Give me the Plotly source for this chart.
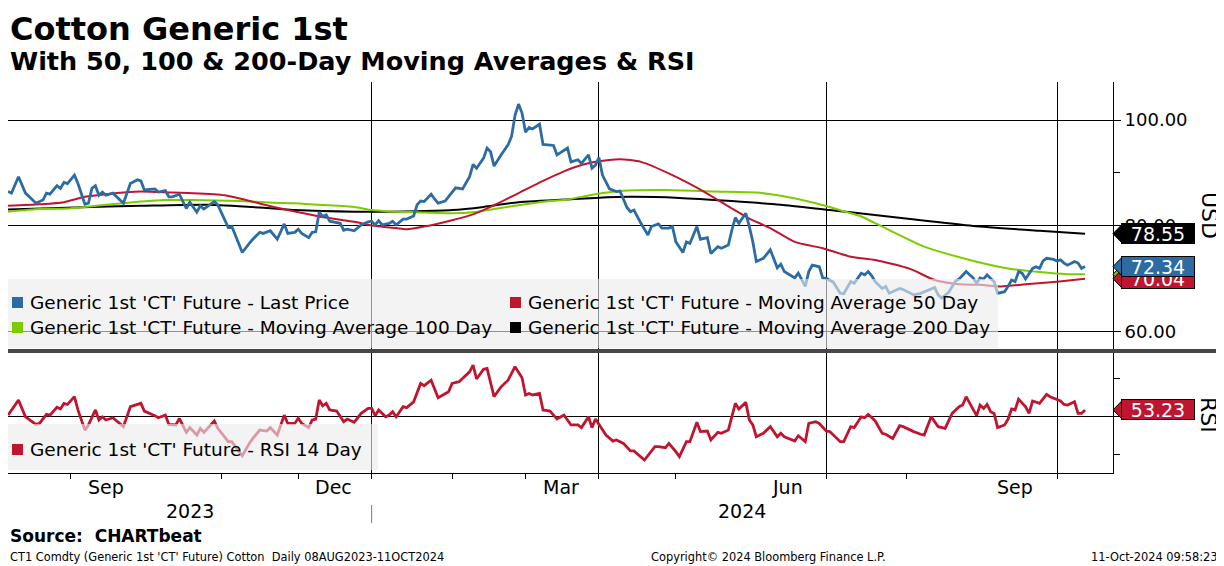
import pandas as pd
import plotly.graph_objects as go

# === DATA ===
# x values are trading-day numbers counted from 08 Aug 2023 (0) to 11 Oct 2024 (308)
trading_days = pd.bdate_range("2023-08-08", "2024-10-11")

price_idx = [0, 1, 3, 5, 8, 10, 11, 12, 14, 15,
             16, 17, 19, 20, 22, 23, 24, 25, 26, 27,
             28, 30, 33, 35, 37, 38, 39, 42, 43, 45,
             46, 47, 49, 51, 52, 54, 55, 56, 59, 60,
             63, 64, 65, 67, 69, 70, 72, 73, 75, 77,
             79, 80, 82, 83, 84, 86, 87, 88, 89, 90,
             91, 92, 95, 96, 97, 99, 101, 103, 104, 105,
             106, 107, 109, 110, 111, 113, 114, 116, 117, 118,
             119, 121, 122, 123, 125, 126, 128, 130, 131, 132,
             133, 134, 136, 137, 138, 139, 141, 143, 144, 145,
             146, 147, 148, 149, 150, 152, 153, 155, 156, 157,
             160, 161, 163, 164, 166, 167, 168, 169, 170, 172,
             174, 175, 177, 178, 179, 181, 183, 184, 186, 187,
             189, 190, 191, 193, 194, 195, 197, 198, 200, 201,
             203, 204, 206, 207, 208, 209, 211, 212, 213, 214,
             216, 218, 220, 221, 222, 225, 226, 228, 229, 230,
             232, 233, 234, 236, 238, 239, 241, 242, 244, 245,
             246, 247, 248, 250, 251, 252, 253, 255, 256, 258,
             259, 261, 262, 263, 265, 266, 267, 269, 270, 271,
             272, 274, 275, 276, 277, 278, 279, 280, 281, 282,
             283, 285, 286, 287, 288, 289, 290, 291, 293, 294,
             295, 296, 297, 299, 300, 301, 302, 303, 305, 306,
             307, 308]
last_price = [86.5, 86.2, 89.3, 86.2, 84.3, 84.9, 86.2, 86.0, 87.6, 87.1,
              88.2, 88.0, 89.6, 88.0, 84.1, 84.3, 87.1, 87.6, 85.8, 86.4,
              85.8, 86.2, 84.3, 88.0, 88.7, 88.5, 86.8, 87.0, 86.4, 86.7,
              85.5, 85.5, 86.0, 83.3, 84.5, 82.6, 83.8, 83.2, 84.6, 84.0,
              79.7, 79.9, 78.3, 75.0, 76.7, 77.5, 78.8, 78.6, 79.1, 77.5,
              80.4, 78.6, 78.8, 79.4, 78.6, 77.8, 78.8, 78.9, 82.6, 81.8,
              82.1, 80.9, 80.5, 79.2, 79.4, 79.1, 80.2, 80.8, 80.9, 80.2,
              81.0, 80.2, 80.5, 80.9, 80.2, 81.3, 81.3, 81.9, 84.0, 84.7,
              84.6, 86.0, 85.1, 84.3, 84.7, 85.5, 87.2, 87.0, 88.2, 89.3,
              91.6, 90.9, 92.8, 94.7, 94.0, 91.3, 93.4, 95.3, 96.9, 100.9,
              103.0, 101.3, 97.7, 98.6, 98.3, 99.2, 95.4, 95.3, 95.2, 93.4,
              94.7, 92.1, 92.5, 91.8, 93.4, 90.9, 91.5, 92.9, 89.6, 87.0,
              86.5, 86.6, 83.5, 82.7, 83.0, 80.5, 78.3, 79.9, 80.4, 79.6,
              79.6, 79.9, 77.0, 75.0, 77.0, 76.7, 79.9, 77.5, 77.8, 74.8,
              76.1, 75.8, 76.4, 79.2, 81.6, 80.5, 82.4, 79.9, 77.0, 73.3,
              73.9, 75.5, 72.1, 72.8, 71.4, 70.2, 71.1, 68.6, 71.4, 72.6,
              72.3, 70.2, 70.1, 69.4, 67.3, 67.2, 69.5, 69.2, 71.1, 70.8,
              71.4, 70.6, 69.5, 68.2, 68.6, 67.3, 67.6, 68.2, 68.0, 67.3,
              67.0, 67.3, 67.6, 67.9, 68.4, 67.0, 66.4, 67.5, 68.6, 69.6,
              70.0, 71.4, 70.8, 70.2, 69.2, 70.2, 70.0, 70.8, 70.1, 69.5,
              67.3, 67.6, 68.6, 69.8, 69.5, 71.4, 71.1, 70.0, 72.0, 72.3,
              72.0, 73.4, 73.9, 73.7, 73.4, 73.6, 73.0, 72.6, 73.3, 73.0,
              72.0, 72.34]

ma50_idx = [0, 9, 16, 22, 28, 38, 47, 53, 62, 68,
            76, 80, 89, 99, 104, 111, 114, 119, 127, 133,
            138, 146, 153, 159, 164, 168, 175, 181, 190, 199,
            207, 212, 218, 225, 233, 241, 248, 258, 265,
            272, 278, 284, 291, 300, 308]
ma50 = [83.8, 84.1, 84.5, 85.5, 86.0, 86.5, 86.3, 86.2, 85.8, 84.9,
        83.6, 83.0, 81.8, 80.8, 80.1, 79.6, 79.4, 79.9, 81.1, 82.2,
        83.6, 86.2, 88.5, 90.3, 91.5, 92.1, 92.6, 92.1, 89.6, 86.5,
        83.3, 81.4, 79.6, 77.0, 75.8, 74.2, 73.6, 71.9, 69.8,
        69.0, 68.9, 68.6, 69.0, 69.5, 70.04]

ma100_idx = [0, 9, 17, 28, 38, 45, 53, 66, 76, 82,
             89, 99, 104, 108, 117, 127, 133, 140, 148, 155,
             160, 168, 175, 188, 202, 214, 221, 231, 241, 244,
             253, 262, 275, 286, 295, 303, 308]
ma100 = [82.7, 83.2, 83.3, 84.0, 84.6, 84.9, 84.9, 84.7, 84.4, 84.3,
         84.0, 83.6, 83.0, 82.8, 82.6, 82.4, 82.6, 83.3, 84.1, 84.7,
         85.0, 86.0, 86.6, 86.8, 86.5, 86.3, 85.7, 84.3, 82.4, 81.8,
         78.9, 76.1, 73.6, 72.0, 71.3, 70.9, 70.9]

ma200_idx = [0, 19, 38, 57, 76, 82, 99, 117, 127, 136,
             146, 162, 168, 178, 192, 207, 221, 235, 241, 258,
             276, 295, 308]
ma200 = [83.1, 83.5, 83.8, 84.0, 83.3, 83.0, 82.7, 82.8, 83.0, 83.6,
         84.5, 85.1, 85.3, 85.5, 85.3, 84.7, 84.0, 83.0, 82.6, 81.3,
         80.0, 79.1, 78.55]

rsi_idx = [0, 3, 5, 8, 9, 11, 12, 14, 15, 16,
           17, 19, 20, 22, 23, 25, 26, 27, 28, 30,
           33, 35, 38, 39, 42, 43, 45, 46, 48, 49,
           51, 52, 54, 55, 56, 59, 60, 63, 64, 67,
           69, 70, 72, 74, 75, 77, 79, 80, 82, 83,
           84, 86, 87, 88, 89, 90, 91, 92, 94, 96,
           97, 99, 101, 103, 104, 105, 106, 108, 109, 110,
           111, 113, 114, 116, 118, 119, 121, 123, 126, 127,
           129, 131, 132, 133, 134, 136, 137, 139, 141, 143,
           145, 147, 148, 149, 150, 152, 153, 155, 157, 159,
           161, 163, 164, 166, 167, 168, 171, 173, 174, 176,
           178, 179, 182, 185, 186, 188, 189, 191, 192, 194,
           195, 197, 198, 200, 201, 203, 204, 206, 207, 208,
           209, 211, 212, 213, 214, 216, 218, 220, 221, 222,
           225, 226, 228, 229, 231, 232, 234, 235, 238, 239,
           241, 242, 244, 245, 246, 248, 250, 251, 253, 255,
           256, 258, 259, 261, 262, 264, 266, 268, 270, 272,
           273, 274, 275, 277, 278, 279, 280, 281, 282, 283,
           285, 286, 287, 288, 289, 291, 292, 293, 295, 297,
           298, 300, 301, 302, 303, 305, 306, 307, 308]
rsi14 = [50.5, 58.4, 49.6, 45.6, 46.1, 50.9, 50.5, 54.6, 53.7, 56.7,
         56.1, 60.2, 53.2, 42.6, 45.3, 53.2, 47.9, 49.6, 47.9, 49.1,
         44.4, 54.9, 56.7, 52.6, 50.2, 49.1, 50.5, 45.6, 45.3, 48.8,
         41.4, 43.9, 40.0, 43.5, 41.4, 47.4, 43.5, 36.5, 36.5, 29.1,
         35.6, 38.2, 42.6, 42.1, 43.9, 40.0, 50.5, 46.1, 46.1, 48.8,
         46.1, 43.9, 47.9, 48.4, 58.4, 55.4, 56.7, 53.2, 52.6, 47.0,
         48.4, 46.7, 51.4, 54.0, 54.0, 50.2, 53.2, 49.6, 50.5, 52.3,
         49.6, 54.9, 54.4, 57.5, 67.2, 66.0, 68.9, 59.6, 62.8, 67.2,
         68.1, 71.6, 73.3, 76.8, 69.5, 74.7, 75.1, 60.2, 65.4, 68.9,
         76.0, 70.2, 61.1, 61.9, 61.1, 61.9, 53.2, 52.6, 48.4, 50.5,
         45.3, 45.3, 43.9, 49.6, 43.9, 48.4, 40.0, 36.8, 37.4, 35.6,
         31.6, 31.6, 26.8, 33.9, 33.9, 33.3, 35.6, 31.2, 28.6, 36.5,
         36.5, 46.7, 41.8, 42.1, 37.4, 41.4, 40.9, 42.6, 50.5, 56.7,
         53.7, 57.2, 47.9, 45.3, 39.1, 40.9, 44.4, 39.1, 40.9, 39.1,
         36.8, 39.6, 36.5, 46.1, 47.0, 46.1, 42.1, 41.8, 36.5, 36.5,
         44.4, 43.9, 49.6, 49.1, 50.9, 47.4, 40.9, 40.4, 38.2, 44.9,
         44.4, 42.6, 41.8, 40.4, 40.0, 49.6, 44.4, 43.5, 51.4, 54.9,
         55.8, 60.2, 56.7, 50.2, 55.8, 54.0, 56.1, 52.3, 51.4, 43.9,
         45.3, 48.4, 53.7, 53.2, 58.9, 54.9, 51.4, 57.9, 56.7, 61.4,
         60.2, 58.4, 57.9, 56.1, 55.8, 57.5, 51.4, 51.4, 53.23]

# axis furniture
quarter_starts = ["2023-10-01", "2024-01-01", "2024-04-01", "2024-07-01", "2024-10-01"]
month_starts = pd.date_range("2023-09-01", "2024-10-01", freq="MS")
month_labels = ["Sep", "Dec", "Mar", "Jun", "Sep"]
month_label_dates = ["2023-09-15", "2023-12-15", "2024-03-15", "2024-06-14", "2024-09-13"]
year_labels = ["2023", "2024"]
year_label_dates = ["2023-10-19", "2024-05-28"]

BLUE = "#2d6ca2"
RED = "#c0152f"
GREEN = "#7ccc00"
BLACK = "#000000"
FONT = "DejaVu Sans"

W, H = 1224, 566
OFF = 8  # сторінка має відступ 8px, компенсуємо


def px(x):
    return (x - OFF) / W


def py(y):
    return 1 - (y - OFF) / H


fig = go.Figure()

# === ЛІНІЇ ===
fig.add_trace(go.Scatter(x=trading_days[ma200_idx], y=ma200, mode="lines",
                         line=dict(color=BLACK, width=2, shape="spline", smoothing=0.6),
                         xaxis="x", yaxis="y"))
fig.add_trace(go.Scatter(x=trading_days[ma100_idx], y=ma100, mode="lines",
                         line=dict(color=GREEN, width=2, shape="spline", smoothing=0.6),
                         xaxis="x", yaxis="y"))
fig.add_trace(go.Scatter(x=trading_days[ma50_idx], y=ma50, mode="lines",
                         line=dict(color=RED, width=2, shape="spline", smoothing=0.6),
                         xaxis="x", yaxis="y"))
fig.add_trace(go.Scatter(x=trading_days[price_idx], y=last_price, mode="lines",
                         line=dict(color=BLUE, width=2.8),
                         xaxis="x", yaxis="y"))
fig.add_trace(go.Scatter(x=trading_days[rsi_idx], y=rsi14, mode="lines",
                         line=dict(color=RED, width=2.8),
                         xaxis="x2", yaxis="y2"))

x_range = ["2023-08-08", "2024-10-23"]
breaks = [dict(bounds=["sat", "mon"])]
x_common = dict(
    type="date", range=x_range, rangebreaks=breaks, domain=[0, px(1113)],
    tickmode="array", tickvals=quarter_starts, showticklabels=False,
    showgrid=True, gridcolor="black", gridwidth=1, zeroline=False,
)

fig.update_layout(
    width=W, height=H,
    margin=dict(l=0, r=0, t=0, b=0),
    paper_bgcolor="white", plot_bgcolor="white",
    showlegend=False,
    font=dict(family=FONT, color="black"),
    xaxis=dict(**x_common, anchor="y", matches="x2", ticks="", showline=False),
    xaxis2=dict(**x_common, anchor="y2", ticks="outside", ticklen=5, tickcolor="black",
                showline=True, linecolor="black", linewidth=1,
                minor=dict(tickmode="array", tickvals=month_starts, ticks="outside",
                           ticklen=5, tickcolor="black", showgrid=False)),
    yaxis=dict(domain=[py(350), py(82)], range=[56.6, 107.17], side="right", anchor="x",
               tickmode="array", tickvals=[60, 80, 100], tickformat=".2f",
               ticks="outside", ticklen=7, tickcolor="black",
               tickfont=dict(size=18, family=FONT),
               showgrid=True, gridcolor="black", gridwidth=1, zeroline=False,
               showline=True, linecolor="black", linewidth=1,
               minor=dict(tickmode="array", tickvals=[70, 90], ticks="outside",
                          ticklen=6, tickcolor="black", showgrid=False)),
    yaxis2=dict(domain=[py(473), py(353)], range=[20.0, 83.2], side="right", anchor="x2",
                tickmode="array", tickvals=[50], showticklabels=False,
                ticks="outside", ticklen=7, tickcolor="black",
                showgrid=True, gridcolor="black", gridwidth=1, zeroline=False,
                showline=True, linecolor="black", linewidth=1,
                minor=dict(tickmode="array", tickvals=[30, 70], ticks="outside",
                           ticklen=6, tickcolor="black", showgrid=False)),
)

# === ЛЕГЕНДИ (напівпрозорі панелі) ===
fig.add_shape(type="rect", xref="paper", yref="paper", x0=px(0), x1=px(998), y0=py(348), y1=py(279),
              fillcolor="rgba(236,236,236,0.62)", line=dict(width=0), layer="above")
fig.add_shape(type="rect", xref="paper", yref="paper", x0=px(0), x1=px(378), y0=py(470), y1=py(424),
              fillcolor="rgba(236,236,236,0.62)", line=dict(width=0), layer="above")

legend_items = [
    ("Generic 1st 'CT' Future - Last Price", BLUE, 12, 302),
    ("Generic 1st 'CT' Future - Moving Average 50 Day", RED, 510, 302),
    ("Generic 1st 'CT' Future - Moving Average 100 Day", GREEN, 12, 327),
    ("Generic 1st 'CT' Future - Moving Average 200 Day", BLACK, 510, 327),
    ("Generic 1st 'CT' Future - RSI 14 Day", RED, 12, 449),
]
for text, color, lx, ly in legend_items:
    fig.add_shape(type="rect", xref="paper", yref="paper",
                  x0=px(lx), x1=px(lx + 11), y0=py(ly + 6), y1=py(ly - 5),
                  fillcolor=color, line=dict(width=0), layer="above")
    fig.add_annotation(x=px(lx + 16), y=py(ly), xref="paper", yref="paper",
                       xanchor="left", yanchor="middle", showarrow=False,
                       text=text, font=dict(size=18.5, family=FONT, color="black"))

# розділювач панелей
fig.add_shape(type="rect", xref="paper", yref="paper", x0=px(0), x1=1, y0=py(353), y1=py(349),
              fillcolor="#474747", line=dict(width=0), layer="above")

# === ПІДПИСИ ОСІ X ===
for lab, d in zip(month_labels, month_label_dates):
    fig.add_annotation(x=d, y=py(487), xref="x2", yref="paper", showarrow=False,
                       xanchor="center", yanchor="middle", text=lab,
                       font=dict(size=19, family=FONT))
for lab, d in zip(year_labels, year_label_dates):
    fig.add_annotation(x=d, y=py(511), xref="x2", yref="paper", showarrow=False,
                       xanchor="center", yanchor="middle", text=lab,
                       font=dict(size=19, family=FONT))
fig.add_shape(type="line", xref="x2", yref="paper", x0="2024-01-01", x1="2024-01-01",
              y0=py(523), y1=py(505), line=dict(color="#777777", width=1))

# назви осей Y
fig.add_annotation(x=px(1209), y=py(215), xref="paper", yref="paper", showarrow=False,
                   xanchor="center", yanchor="middle",
                   text="USD", textangle=90, font=dict(size=22, family=FONT))
fig.add_annotation(x=px(1209), y=py(415), xref="paper", yref="paper", showarrow=False,
                   xanchor="center", yanchor="middle",
                   text="RSI", textangle=90, font=dict(size=22, family=FONT))

# === ЗАГОЛОВКИ ===
fig.add_annotation(x=px(8), y=py(8), xref="paper", yref="paper", showarrow=False,
                   xanchor="left", yanchor="top", text="<b>Cotton Generic 1st</b>",
                   font=dict(size=32, family=FONT))
fig.add_annotation(x=px(8), y=py(61), xref="paper", yref="paper", showarrow=False,
                   xanchor="left", yanchor="middle",
                   text="<b>With 50, 100 & 200-Day Moving Averages & RSI</b>",
                   font=dict(size=25.5, family=FONT))
fig.add_annotation(x=px(8), y=py(536), xref="paper", yref="paper", showarrow=False,
                   xanchor="left", yanchor="middle", text="<b>Source:  CHARTbeat</b>",
                   font=dict(size=17, family=FONT))
fig.add_annotation(x=px(8), y=py(557), xref="paper", yref="paper", showarrow=False,
                   xanchor="left", yanchor="middle",
                   text="CT1 Comdty (Generic 1st 'CT' Future) Cotton  Daily 08AUG2023-11OCT2024",
                   font=dict(size=11.4, family=FONT))
fig.add_annotation(x=px(649), y=py(557), xref="paper", yref="paper", showarrow=False,
                   xanchor="left", yanchor="middle",
                   text="Copyright© 2024 Bloomberg Finance L.P.",
                   font=dict(size=11.4, family=FONT))
fig.add_annotation(x=px(1220), y=py(557), xref="paper", yref="paper", showarrow=False,
                   xanchor="right", yanchor="middle", text="11-Oct-2024 09:58:23",
                   font=dict(size=11.4, family=FONT))


# === ЦІНОВІ МІТКИ СПРАВА ===
def add_tag(value, color, yref, half):
    fig.add_shape(type="path", xref="paper", yref=yref,
                  path=f"M {px(1113)},{value} L {px(1122)},{value + half} "
                       f"L {px(1122)},{value - half} Z",
                  fillcolor=color, line=dict(color="black", width=1), layer="above")
    fig.add_annotation(x=px(1121), y=value, xref="paper", yref=yref,
                       xanchor="left", yanchor="middle", showarrow=False,
                       text=f"{value:.2f}", bgcolor=color, bordercolor="black",
                       borderwidth=1, borderpad=1, width=70, height=17, align="center",
                       font=dict(size=19, family=FONT, color="white"))


add_tag(ma200[-1], BLACK, "y", 1.75)
add_tag(ma100[-1], GREEN, "y", 1.75)
add_tag(ma50[-1], RED, "y", 1.75)
add_tag(last_price[-1], BLUE, "y", 1.75)
add_tag(rsi14[-1], RED, "y2", 4.8)

fig.write_html("out.html")
